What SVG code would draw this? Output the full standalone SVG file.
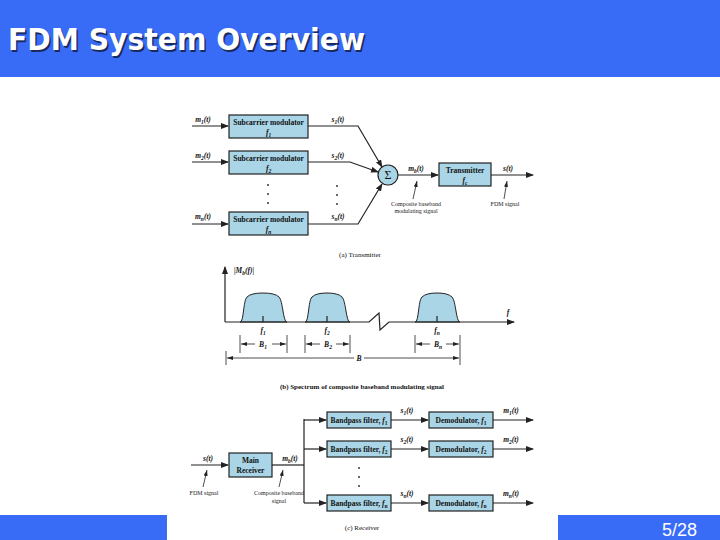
<svg xmlns="http://www.w3.org/2000/svg" width="720" height="540" viewBox="0 0 720 540">
<defs>
<marker id="arr" markerWidth="8" markerHeight="6" refX="7" refY="3" orient="auto" markerUnits="userSpaceOnUse"><path d="M0,0 L8,3 L0,6 Z" fill="#222"/></marker>
<marker id="arrs" markerWidth="6" markerHeight="4" refX="6" refY="2" orient="auto" markerUnits="userSpaceOnUse"><path d="M0,0 L6,2 L0,4 Z" fill="#222"/></marker>
<style>
.bar{fill:#386bf6}
.box{fill:#a9d5e6;stroke:#222;stroke-width:1.2}
.bt{font-family:"Liberation Serif",serif;font-weight:bold;font-size:7.5px;fill:#111;text-anchor:middle}
.lb{font-family:"Liberation Serif",serif;font-style:italic;font-weight:bold;font-size:7.5px;fill:#111;text-anchor:middle}
.sm{font-family:"Liberation Serif",serif;font-size:6px;fill:#222;text-anchor:middle}
.cap{font-family:"Liberation Serif",serif;font-size:7px;fill:#111;text-anchor:middle}
.ln{fill:none;stroke:#222;stroke-width:1.2}
.thin{fill:none;stroke:#222;stroke-width:0.8}
.bump{fill:#a9d5e6;stroke:#222;stroke-width:1}
</style>
</defs>
<rect width="720" height="540" fill="#fff"/>
<rect class="bar" x="0" y="0" width="720" height="77"/>
<rect class="bar" x="0" y="515" width="167" height="25"/>
<rect class="bar" x="558" y="515" width="162" height="25"/>
<text x="9.5" y="51.5" font-family="'DejaVu Sans',sans-serif" font-weight="bold" font-size="31" fill="#1a2a5a" textLength="357" lengthAdjust="spacingAndGlyphs">FDM System Overview</text>
<text x="8" y="50" font-family="'DejaVu Sans',sans-serif" font-weight="bold" font-size="31" fill="#fff" textLength="357" lengthAdjust="spacingAndGlyphs">FDM System Overview</text>
<text x="697" y="536" font-family="'Liberation Sans',sans-serif" font-size="18" fill="#fff" text-anchor="end" textLength="35" lengthAdjust="spacingAndGlyphs">5/28</text>

<g id="connectors">
<line class="ln" x1="192" y1="126" x2="228" y2="126" marker-end="url(#arr)"/>
<line class="ln" x1="192" y1="162" x2="228" y2="162" marker-end="url(#arr)"/>
<line class="ln" x1="192" y1="224" x2="228" y2="224" marker-end="url(#arr)"/>
<polyline class="ln" points="308,126 358,126 382,167" marker-end="url(#arr)"/>
<polyline class="ln" points="308,162 350,162 378,172" marker-end="url(#arr)"/>
<polyline class="ln" points="308,224 358,224 382,184" marker-end="url(#arr)"/>
<line class="ln" x1="398" y1="175" x2="438" y2="175" marker-end="url(#arr)"/>
<line class="ln" x1="491" y1="175" x2="533" y2="175" marker-end="url(#arr)"/>
<line class="thin" x1="413" y1="199" x2="417" y2="181" marker-end="url(#arrs)"/>
<line class="thin" x1="504" y1="199" x2="507" y2="181" marker-end="url(#arrs)"/>
<line class="ln" x1="191" y1="465" x2="228" y2="465" marker-end="url(#arr)"/>
<line class="ln" x1="272" y1="465" x2="304" y2="465"/>
<line class="ln" x1="304" y1="419" x2="304" y2="503"/>
<line class="ln" x1="304" y1="420" x2="326" y2="420" marker-end="url(#arr)"/>
<line class="ln" x1="304" y1="449" x2="326" y2="449" marker-end="url(#arr)"/>
<line class="ln" x1="304" y1="503" x2="326" y2="503" marker-end="url(#arr)"/>
<line class="ln" x1="391" y1="420" x2="428" y2="420" marker-end="url(#arr)"/>
<line class="ln" x1="391" y1="449" x2="428" y2="449" marker-end="url(#arr)"/>
<line class="ln" x1="391" y1="503" x2="428" y2="503" marker-end="url(#arr)"/>
<line class="ln" x1="493" y1="420" x2="533" y2="420" marker-end="url(#arr)"/>
<line class="ln" x1="493" y1="449" x2="533" y2="449" marker-end="url(#arr)"/>
<line class="ln" x1="493" y1="503" x2="533" y2="503" marker-end="url(#arr)"/>
<line class="thin" x1="203" y1="487" x2="207" y2="470" marker-end="url(#arrs)"/>
<line class="thin" x1="279" y1="487" x2="283" y2="470" marker-end="url(#arrs)"/>
</g>

<g id="tx-labels">
<text class="lb" x="203" y="122">m<tspan font-size="5.5" dy="1.5">1</tspan><tspan dy="-1.5">(t)</tspan></text>
<text class="lb" x="203" y="158">m<tspan font-size="5.5" dy="1.5">2</tspan><tspan dy="-1.5">(t)</tspan></text>
<text class="lb" x="203" y="219">m<tspan font-size="5.5" dy="1.5">n</tspan><tspan dy="-1.5">(t)</tspan></text>
<text class="lb" x="338" y="122">s<tspan font-size="5.5" dy="1.5">1</tspan><tspan dy="-1.5">(t)</tspan></text>
<text class="lb" x="338" y="158">s<tspan font-size="5.5" dy="1.5">2</tspan><tspan dy="-1.5">(t)</tspan></text>
<text class="lb" x="338" y="219">s<tspan font-size="5.5" dy="1.5">n</tspan><tspan dy="-1.5">(t)</tspan></text>
<text class="lb" x="416" y="171">m<tspan font-size="5.5" dy="1.5">b</tspan><tspan dy="-1.5">(t)</tspan></text>
<text class="lb" x="508" y="171">s(t)</text>
<text class="sm" x="416" y="206">Composite baseband</text>
<text class="sm" x="416" y="213">modulating signal</text>
<text class="sm" x="505" y="206">FDM signal</text>
<g fill="#222"><circle cx="268" cy="185" r="0.9"/><circle cx="268" cy="194" r="0.9"/><circle cx="268" cy="203" r="0.9"/><circle cx="337" cy="186" r="0.9"/><circle cx="337" cy="195" r="0.9"/><circle cx="337" cy="204" r="0.9"/></g>
<text class="cap" x="360" y="257">(a) Transmitter</text>
</g>

<g id="mod1"><rect class="box" x="229" y="115" width="79" height="23"/><text class="bt" x="268.5" y="125">Subcarrier modulator</text><text class="lb" x="268.5" y="135">f<tspan font-size="5.5" dy="1.5">1</tspan></text></g>
<g id="mod2"><rect class="box" x="229" y="151" width="79" height="23"/><text class="bt" x="268.5" y="161">Subcarrier modulator</text><text class="lb" x="268.5" y="171">f<tspan font-size="5.5" dy="1.5">2</tspan></text></g>
<g id="modn"><rect class="box" x="229" y="212" width="79" height="23"/><text class="bt" x="268.5" y="222">Subcarrier modulator</text><text class="lb" x="268.5" y="232">f<tspan font-size="5.5" dy="1.5">n</tspan></text></g>
<g id="sum"><circle cx="388" cy="175" r="10" fill="#a9d5e6" stroke="#222" stroke-width="1.2"/><text x="388" y="179" font-family="'Liberation Serif',serif" font-size="12" text-anchor="middle" fill="#111">Σ</text></g>
<g id="transmitter"><rect class="box" x="439" y="163" width="52" height="23"/><text class="bt" x="465" y="173">Transmitter</text><text class="lb" x="465" y="183">f<tspan font-size="5.5" dy="1.5">c</tspan></text></g>

<g id="spectrum">
<line class="ln" x1="225" y1="322" x2="225" y2="267" marker-end="url(#arr)"/>
<text class="lb" x="244" y="273">|M<tspan font-size="5.5" dy="1.5">b</tspan><tspan dy="-1.5">(f)|</tspan></text>
<path class="bump" d="M240,322 C244,322 243,301 247,297 Q251,293 263,293 Q275,293 279,297 C283,301 283,322 287,322 Z"/>
<path class="bump" d="M305,322 C309,322 308,301 312,297 Q316,293 327,293 Q338,293 342,297 C346,301 346,322 350,322 Z"/>
<path class="bump" d="M415,322 C419,322 418,301 422,297 Q426,293 437,293 Q448,293 452,297 C456,301 456,322 460,322 Z"/>
<polyline class="ln" points="225,322 369,322 379,313 380,330 389,322 514,322" marker-end="url(#arr)"/>
<line class="ln" x1="263" y1="316" x2="263" y2="322"/>
<line class="ln" x1="327" y1="316" x2="327" y2="322"/>
<line class="ln" x1="437" y1="316" x2="437" y2="322"/>
<text class="lb" x="508" y="315">f</text>
<text class="lb" x="263" y="333">f<tspan font-size="5.5" dy="1.5">1</tspan></text>
<text class="lb" x="327" y="333">f<tspan font-size="5.5" dy="1.5">2</tspan></text>
<text class="lb" x="437" y="333">f<tspan font-size="5.5" dy="1.5">n</tspan></text>
<g class="thin">
<line x1="240" y1="335" x2="240" y2="353"/><line x1="287" y1="335" x2="287" y2="353"/>
<line x1="305" y1="335" x2="305" y2="353"/><line x1="350" y1="335" x2="350" y2="353"/>
<line x1="415" y1="335" x2="415" y2="353"/><line x1="460" y1="335" x2="460" y2="353"/>
<line x1="226" y1="351" x2="226" y2="365"/><line x1="460" y1="353" x2="460" y2="365"/>
<line x1="255" y1="344" x2="241" y2="344" marker-end="url(#arrs)"/><line x1="272" y1="344" x2="286" y2="344" marker-end="url(#arrs)"/>
<line x1="320" y1="344" x2="306" y2="344" marker-end="url(#arrs)"/><line x1="336" y1="344" x2="349" y2="344" marker-end="url(#arrs)"/>
<line x1="430" y1="344" x2="416" y2="344" marker-end="url(#arrs)"/><line x1="446" y1="344" x2="459" y2="344" marker-end="url(#arrs)"/>
<line x1="354" y1="358" x2="227" y2="358" marker-end="url(#arrs)"/><line x1="364" y1="358" x2="459" y2="358" marker-end="url(#arrs)"/>
</g>
<text class="lb" x="263" y="347">B<tspan font-size="5.5" dy="1.5">1</tspan></text>
<text class="lb" x="328" y="347">B<tspan font-size="5.5" dy="1.5">2</tspan></text>
<text class="lb" x="438" y="347">B<tspan font-size="5.5" dy="1.5">n</tspan></text>
<text class="lb" x="359" y="361">B</text>
<text class="cap" x="362" y="389" font-weight="bold">(b) Spectrum of composite baseband modulating signal</text>
</g>

<g id="rx-labels">
<text class="lb" x="208" y="461">s(t)</text>
<text class="lb" x="290" y="461">m<tspan font-size="5.5" dy="1.5">b</tspan><tspan dy="-1.5">(t)</tspan></text>
<text class="sm" x="204" y="495">FDM signal</text>
<text class="sm" x="279" y="495">Composite baseband</text>
<text class="sm" x="279" y="503">signal</text>
<text class="lb" x="407" y="413">s<tspan font-size="5.5" dy="1.5">1</tspan><tspan dy="-1.5">(t)</tspan></text>
<text class="lb" x="407" y="442">s<tspan font-size="5.5" dy="1.5">2</tspan><tspan dy="-1.5">(t)</tspan></text>
<text class="lb" x="407" y="496">s<tspan font-size="5.5" dy="1.5">n</tspan><tspan dy="-1.5">(t)</tspan></text>
<text class="lb" x="511" y="413">m<tspan font-size="5.5" dy="1.5">1</tspan><tspan dy="-1.5">(t)</tspan></text>
<text class="lb" x="511" y="442">m<tspan font-size="5.5" dy="1.5">2</tspan><tspan dy="-1.5">(t)</tspan></text>
<text class="lb" x="511" y="496">m<tspan font-size="5.5" dy="1.5">n</tspan><tspan dy="-1.5">(t)</tspan></text>
<g fill="#222"><circle cx="359" cy="468" r="0.9"/><circle cx="359" cy="477" r="0.9"/><circle cx="359" cy="486" r="0.9"/></g>
<text class="cap" x="362" y="530">(<tspan font-style="italic">c</tspan>) Receiver</text>
</g>

<g id="main-receiver"><rect class="box" x="229" y="453" width="43" height="24"/><text class="bt" x="250.5" y="463">Main</text><text class="bt" x="250.5" y="473">Receiver</text></g>
<g id="bpf1"><rect class="box" x="327" y="412" width="64" height="16"/><text class="bt" x="359" y="423">Bandpass filter, <tspan font-style="italic">f</tspan><tspan font-size="5.5" dy="1.5">1</tspan></text></g>
<g id="bpf2"><rect class="box" x="327" y="441" width="64" height="16"/><text class="bt" x="359" y="452">Bandpass filter, <tspan font-style="italic">f</tspan><tspan font-size="5.5" dy="1.5">2</tspan></text></g>
<g id="bpfn"><rect class="box" x="327" y="495" width="64" height="16"/><text class="bt" x="359" y="506">Bandpass filter, <tspan font-style="italic">f</tspan><tspan font-size="5.5" dy="1.5">n</tspan></text></g>
<g id="demod1"><rect class="box" x="429" y="412" width="64" height="16"/><text class="bt" x="461" y="423">Demodulator, <tspan font-style="italic">f</tspan><tspan font-size="5.5" dy="1.5">1</tspan></text></g>
<g id="demod2"><rect class="box" x="429" y="441" width="64" height="16"/><text class="bt" x="461" y="452">Demodulator, <tspan font-style="italic">f</tspan><tspan font-size="5.5" dy="1.5">2</tspan></text></g>
<g id="demodn"><rect class="box" x="429" y="495" width="64" height="16"/><text class="bt" x="461" y="506">Demodulator, <tspan font-style="italic">f</tspan><tspan font-size="5.5" dy="1.5">n</tspan></text></g>
</svg>
